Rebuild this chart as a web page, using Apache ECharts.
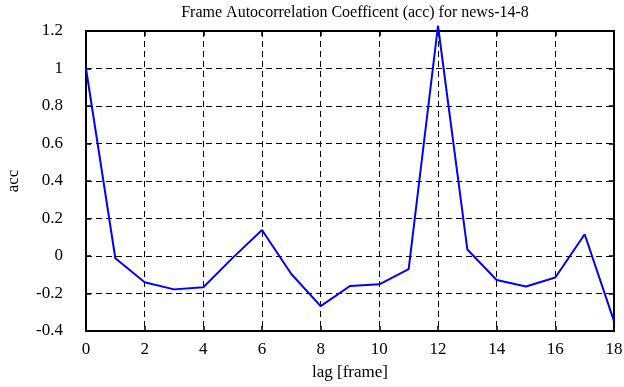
<!DOCTYPE html>
<html>
<head>
<meta charset="utf-8">
<script src="https://cdn.jsdelivr.net/npm/echarts@6/dist/echarts.min.js"></script>
<style>
  html, body { margin: 0; padding: 0; background: #fff; }
  #chart { width: 624px; height: 387px; }
</style>
</head>
<body>
<div id="chart"></div>
<script>
const lags = [0, 1, 2, 3, 4, 5, 6, 7, 8, 9, 10, 11, 12, 13, 14, 15, 16, 17, 18];
const acc = [1.0, -0.012, -0.14, -0.178, -0.167, -0.01, 0.139, -0.096, -0.267, -0.16,
  -0.151, -0.07, 1.228, 0.035, -0.128, -0.163, -0.115, 0.116, -0.347];

const font = 'Liberation Serif';
const chart = echarts.init(document.getElementById('chart'));

const dashed = { show: true, lineStyle: { color: '#000', type: [6, 4], width: 1 } };
const border = { show: true, onZero: false, lineStyle: { color: '#000', width: 2 } };
const tick = { show: true, inside: true, length: 5, lineStyle: { color: '#000', width: 1.5 } };

chart.setOption({
  animation: false,
  title: {
    text: 'Frame Autocorrelation Coefficent (acc) for news-14-8',
    left: 350, textAlign: 'center', top: 0,
    textStyle: { fontFamily: font, fontSize: 16, fontWeight: 'normal', color: '#000' }
  },
  grid: { left: 86, right: 10, top: 31, bottom: 56, containLabel: false, outerBoundsMode: 'none' },
  xAxis: [{
    type: 'value', min: 0, max: 18, interval: 2,
    name: 'lag [frame]', nameLocation: 'middle', nameGap: 33,
    nameTextStyle: { fontFamily: font, fontSize: 17, color: '#000' },
    axisLine: border, axisTick: tick, splitLine: dashed,
    axisLabel: { fontFamily: font, fontSize: 17, color: '#000', margin: 10 }
  }, {
    type: 'value', position: 'top', min: 0, max: 18, interval: 2,
    axisLine: border, axisTick: tick, splitLine: { show: false }, axisLabel: { show: false }
  }],
  yAxis: [{
    type: 'value', min: -0.4, max: 1.2, interval: 0.2,
    name: 'acc', nameLocation: 'middle', nameGap: 64, nameRotate: 90,
    nameTextStyle: { fontFamily: font, fontSize: 17, color: '#000' },
    axisLine: border, axisTick: tick, splitLine: dashed,
    axisLabel: { fontFamily: font, fontSize: 17, color: '#000', margin: 23 }
  }, {
    type: 'value', position: 'right', min: -0.4, max: 1.2, interval: 0.2,
    axisLine: border, axisTick: tick, splitLine: { show: false }, axisLabel: { show: false }
  }],
  series: [{
    type: 'line',
    data: lags.map((l, i) => [l, acc[i]]),
    showSymbol: false, clip: false,
    lineStyle: { color: '#0000ff', width: 2 }
  }]
});
</script>
</body>
</html>
